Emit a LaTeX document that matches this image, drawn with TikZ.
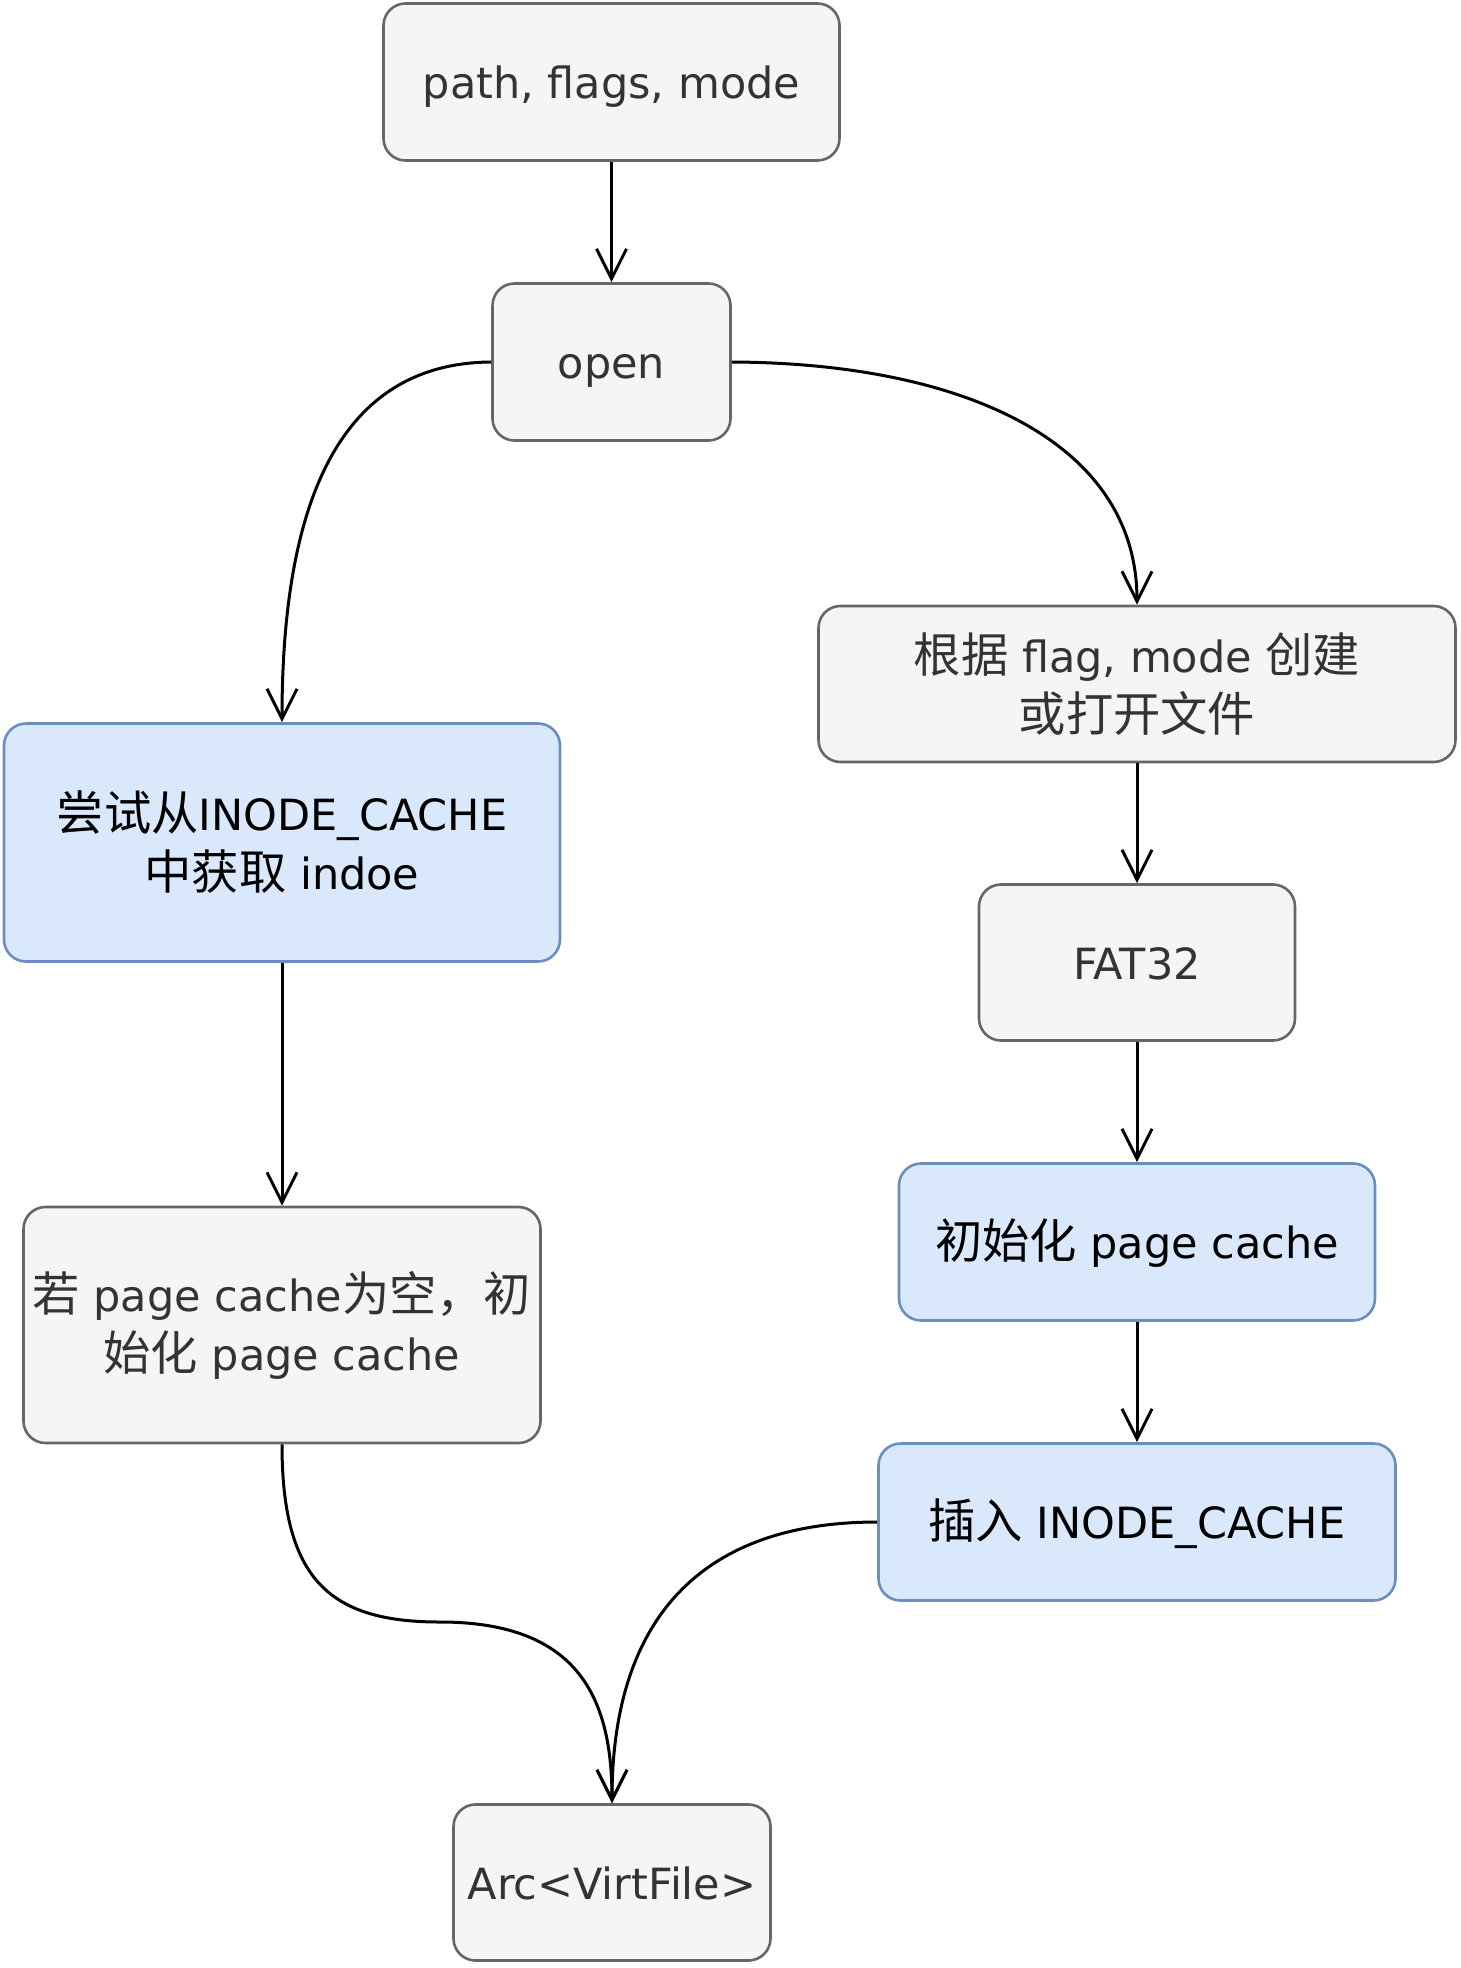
\documentclass[tikz,border=0pt]{standalone}
\usepackage{fontspec}
\setmainfont{DejaVu Sans}
\newfontfamily\cjkf[Scale=1.1]{Noto Sans CJK SC}
\usetikzlibrary{arrows.meta}
\definecolor{greyfill}{HTML}{F5F5F5}
\definecolor{greyline}{HTML}{666666}
\definecolor{greytext}{HTML}{333333}
\definecolor{bluefill}{HTML}{DAE8FC}
\definecolor{blueline}{HTML}{6C8EBF}
\begin{document}
\begin{tikzpicture}[x=1pt,y=-1pt,
  box/.style={rectangle, rounded corners=22pt, line width=2.6pt, inner sep=0pt,
    align=center, font=\fontsize{43}{59}\selectfont},
  greybox/.style={box, draw=greyline, fill=greyfill, text=greytext},
  bluebox/.style={box, draw=blueline, fill=bluefill, text=black},
  oneline/.style={text height=44pt, text depth=11pt},
  conn/.style={line width=3pt, -{Straight Barb[length=30pt,width=30pt]}}]
\useasboundingbox (0,0) rectangle (1460,1968);
\node[greybox, oneline, minimum width=456pt, minimum height=157pt] (b1) at (611.5,82) {path, flags, mode};
\node[greybox, oneline, minimum width=238pt, minimum height=157pt] (open) at (611.5,362) {open};
\node[greybox, minimum width=637pt, minimum height=156pt] (rbox) at (1137,684) {{\cjkf 根据} flag, mode {\cjkf 创建}\\{\cjkf 或打开文件}};
\node[bluebox, minimum width=556pt, minimum height=238pt] (lblue) at (282,842.5) {{\cjkf 尝试从}INODE\_CACHE\\{\cjkf 中获取} indoe};
\node[greybox, oneline, minimum width=316pt, minimum height=156pt] (fat) at (1137,962.5) {FAT32};
\node[greybox, minimum width=517pt, minimum height=236pt] (lgrey) at (282,1325) {{\cjkf 若} page cache{\cjkf 为空，初}\\{\cjkf 始化} page cache};
\node[bluebox, oneline, minimum width=476pt, minimum height=157pt] (init) at (1137,1242) {{\cjkf 初始化} page cache};
\node[bluebox, oneline, minimum width=517pt, minimum height=157pt] (ins) at (1137,1522) {{\cjkf 插入} INODE\_CACHE};
\node[greybox, oneline, minimum width=317pt, minimum height=156pt] (arc) at (612,1882.5) {Arc<VirtFile>};

\draw[conn] (b1.south) -- (open.north);
\draw[conn] (open.west) .. controls (330,363) and (282,520) .. (lblue.north);
\draw[conn] (open.east) .. controls (960,363) and (1137,440) .. (rbox.north);
\draw[conn] (rbox.south) -- (fat.north);
\draw[conn] (fat.south) -- (init.north);
\draw[conn] (init.south) -- (ins.north);
\draw[conn] (lblue.south) -- (lgrey.north);
\draw[conn] (lgrey.south) .. controls (282,1580) and (330,1622) .. (440,1622)
  .. controls (580,1622) and (612,1700) .. (arc.north);
\draw[conn] (ins.west) .. controls (700,1522) and (612,1620) .. (arc.north);
\end{tikzpicture}
\end{document}
